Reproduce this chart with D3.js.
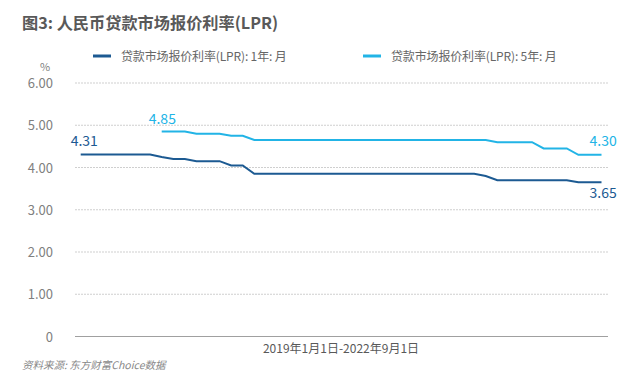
<!DOCTYPE html>
<html><head><meta charset="utf-8">
<script src="https://cdn.jsdelivr.net/npm/d3@7"></script>
<style>
html,body{margin:0;padding:0;background:#fff;}
text{font-family:"Noto Sans CJK SC","Noto Sans",sans-serif;}
</style></head>
<body><svg id="c" width="641" height="381"></svg>
<script>
// Monthly points (2019-01 onward)
const months = ["2019-01","2019-02","2019-03","2019-04","2019-05","2019-06","2019-07","2019-08","2019-09","2019-10","2019-11","2019-12",
"2020-01","2020-02","2020-03","2020-04","2020-05","2020-06","2020-07","2020-08","2020-09","2020-10","2020-11","2020-12",
"2021-01","2021-02","2021-03","2021-04","2021-05","2021-06","2021-07","2021-08","2021-09","2021-10","2021-11","2021-12",
"2022-01","2022-02","2022-03","2022-04","2022-05","2022-06","2022-07","2022-08","2022-09","2022-10"];
const lpr1y = [4.31,4.31,4.31,4.31,4.31,4.31,4.31,4.25,4.20,4.20,4.15,4.15,
4.15,4.05,4.05,3.85,3.85,3.85,3.85,3.85,3.85,3.85,3.85,3.85,
3.85,3.85,3.85,3.85,3.85,3.85,3.85,3.85,3.85,3.85,3.85,3.80,
3.70,3.70,3.70,3.70,3.70,3.70,3.70,3.65,3.65,3.65];
const lpr5y = [null,null,null,null,null,null,null,4.85,4.85,4.85,4.80,4.80,
4.80,4.75,4.75,4.65,4.65,4.65,4.65,4.65,4.65,4.65,4.65,4.65,
4.65,4.65,4.65,4.65,4.65,4.65,4.65,4.65,4.65,4.65,4.65,4.65,
4.60,4.60,4.60,4.60,4.45,4.45,4.45,4.30,4.30,4.30];
const yTicks = [0,1,2,3,4,5,6];
const yTickLabels = ["0","1.00","2.00","3.00","4.00","5.00","6.00"];
const seriesNames = ["贷款市场报价利率(LPR): 1年: 月","贷款市场报价利率(LPR): 5年: 月"];
const titleText = "图3: 人民币贷款市场报价利率(LPR)";
const xLabel = "2019年1月1日-2022年9月1日";
const sourceText = "资料来源: 东方财富Choice数据";

const c1 = "#1c5a92", c5 = "#22b4e6";
const svg = d3.select("#c");
const x = d3.scalePoint().domain(months).range([80.7, 601.5]);
const y = d3.scaleLinear().domain([0,6]).range([336.5, 83]);

svg.append("text").attr("x",22).attr("y",29).attr("font-size",16.2).attr("font-weight","bold")
  .attr("fill","#595959").text(titleText);

// legend
[[93,121,c1,seriesNames[0]],[363,391,c5,seriesNames[1]]].forEach(([lx,tx,col,t])=>{
  svg.append("line").attr("x1",lx).attr("x2",lx+18).attr("y1",56).attr("y2",56).attr("stroke",col).attr("stroke-width",3);
  svg.append("text").attr("x",tx).attr("y",61).attr("font-size",12).attr("letter-spacing",-0.15).attr("fill","#666").text(t);
});

svg.append("text").attr("x",45).attr("y",71).attr("text-anchor","middle").attr("font-size",11).attr("fill","#7f7f7f").text("%");

// y axis labels
const yAxis = d3.axisLeft(y).tickValues(yTicks).tickSize(0).tickPadding(0)
  .tickFormat((d,i)=>yTickLabels[i]);
const ga = svg.append("g").attr("transform","translate(53,0)").call(yAxis);
ga.select(".domain").remove();
ga.selectAll("text").attr("font-size",13).attr("fill","#808080").attr("font-family","Liberation Sans, Arial, sans-serif").attr("dy","0.35em");

// grid
svg.append("g").selectAll("line").data(yTicks.filter(d=>d>0)).join("line")
  .attr("x1",75).attr("x2",608).attr("y1",d=>y(d)).attr("y2",d=>y(d))
  .attr("stroke","#cfcfcf").attr("stroke-width",1).attr("stroke-dasharray","2,1");
svg.append("line").attr("x1",75).attr("x2",608).attr("y1",y(0)).attr("y2",y(0)).attr("stroke","#a0a0a0").attr("stroke-width",1.2);

const line = d3.line().defined(d=>d[1]!=null).x(d=>x(d[0])).y(d=>y(d[1]));
svg.append("path").datum(months.map((m,i)=>[m,lpr5y[i]])).attr("d",line)
  .attr("fill","none").attr("stroke",c5).attr("stroke-width",2);
svg.append("path").datum(months.map((m,i)=>[m,lpr1y[i]])).attr("d",line)
  .attr("fill","none").attr("stroke",c1).attr("stroke-width",2);

// data labels
const lf = "Liberation Sans, Arial, sans-serif";
const i5 = lpr5y.findIndex(v=>v!=null);
const n = months.length-1;
svg.append("text").attr("x",x(months[0])-10).attr("y",y(lpr1y[0])-8).attr("font-size",14).attr("font-family",lf).attr("fill",c1).text(lpr1y[0].toFixed(2));
svg.append("text").attr("x",x(months[i5])-13).attr("y",y(lpr5y[i5])-8).attr("font-size",14).attr("font-family",lf).attr("fill",c5).text(lpr5y[i5].toFixed(2));
svg.append("text").attr("x",x(months[n])-12).attr("y",y(lpr5y[n])-9).attr("font-size",14).attr("font-family",lf).attr("fill",c5).text(lpr5y[n].toFixed(2));
svg.append("text").attr("x",x(months[n])-12).attr("y",y(lpr1y[n])+16).attr("font-size",14).attr("font-family",lf).attr("fill",c1).text(lpr1y[n].toFixed(2));

svg.append("text").attr("x",341).attr("y",353).attr("text-anchor","middle").attr("font-size",12).attr("fill","#595959").text(xLabel);
svg.append("text").attr("x",22).attr("y",369).attr("font-size",10.5).attr("font-style","italic").attr("fill","#888").text(sourceText);
</script></body></html>
